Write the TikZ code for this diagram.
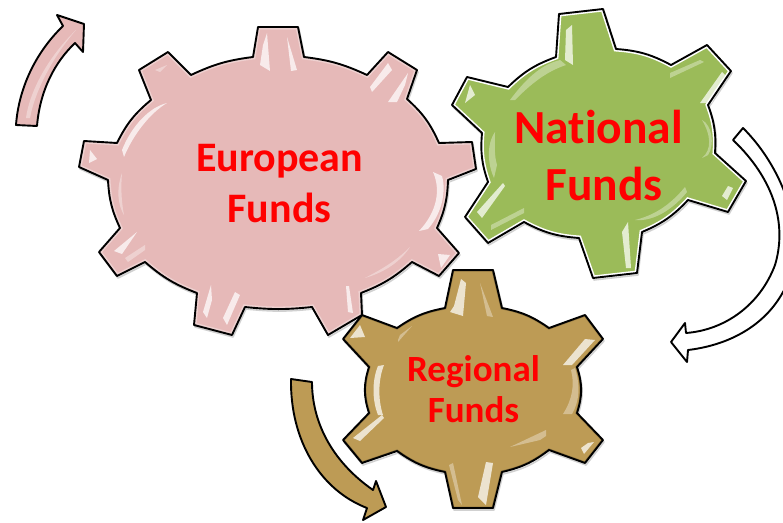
\documentclass[tikz,border=0pt]{standalone}
\usepackage{fontspec}
\setmainfont[Ligatures=NoCommon]{Carlito}
\usetikzlibrary{calc}
\definecolor{pinkfill}{HTML}{E6B9B8}
\definecolor{greenfill}{HTML}{9BBB59}
\definecolor{brownfill}{HTML}{BD9B55}
\tikzset{
  outline/.style={draw=black,line width=1.9pt,line join=round},
  shadowpath/.style={draw=black!45,line width=1.6pt,line join=round,opacity=.4},
  glint/.style={fill=white,draw=none,opacity=.72},
  softglint/.style={fill=white,draw=none,opacity=.35},
  label/.style={text=red,font=\bfseries,align=center,inner sep=0pt}
}
\newcommand{\pinkgear}{(258,27) -- (298,27) -- (304,57) to[bend left=9] (367,75) -- (388,52) -- (417,70) -- (407,99) to[bend left=12] (439,143) -- (472,142) -- (476,169) -- (448,180) to[bend left=11] (437,228) -- (459,253) -- (439,276) -- (412,262) to[bend left=10] (361,293) -- (362,315) -- (328,335) -- (312,307) to[bend left=6] (245,307) -- (232,335) -- (194,325) -- (197,293) to[bend left=10] (145,262) -- (117,276) -- (99,252) -- (120,228) to[bend left=11] (108,180) -- (79,167) -- (84,141) -- (117,143) to[bend left=12] (151,100) -- (139,70) -- (168,52) -- (191,75) to[bend left=9] (253,57) -- cycle}
\newcommand{\greengear}{(559,14) -- (603,9) -- (616,49) to[bend left=12] (671,65) -- (707,45) -- (731,71) -- (708,105) to[bend left=12] (715,153) -- (746,181) -- (728,212) -- (688,200) to[bend left=12] (642,232) -- (637,273) -- (593,278) -- (579,238) to[bend left=12] (524,222) -- (488,243) -- (465,217) -- (488,182) to[bend left=12] (482,133) -- (452,105) -- (467,77) -- (508,87) to[bend left=12] (556,57) -- cycle}
\newcommand{\browngear}{(453,270) -- (493,270) -- (502,308) to[bend left=12] (549,328) -- (585,315) -- (603,339) -- (577,367) to[bend left=18] (577,413) -- (603,440) -- (585,463) -- (549,450) to[bend left=12] (502,472) -- (493,508) -- (453,508) -- (445,472) to[bend left=12] (397,451) -- (362,463) -- (343,440) -- (369,413) to[bend left=18] (369,367) -- (343,339) -- (362,315) -- (397,328) to[bend left=12] (445,308) -- cycle}
\newcommand{\pinkarrow}{(16,125) .. controls (19,85) and (38,50) .. (63,26) -- (57,15) -- (84,24) -- (83,52) -- (75,43) .. controls (55,62) and (40,90) .. (37,126) -- cycle}
\newcommand{\whitearrow}{(733,140) -- (743,128) .. controls (790,175) and (810,250) .. (783,292) .. controls (765,325) and (730,345) .. (688,350) -- (687,362) -- (671,342) -- (685,323) -- (686,333) .. controls (725,330) and (760,305) .. (775,265) .. controls (787,225) and (775,180) .. (733,140) -- cycle}
\newcommand{\brownarrow}{(291,379) -- (312,382) .. controls (312,420) and (330,460) .. (373,490) -- (376,481) -- (386,507) -- (363,520) -- (367,508) .. controls (320,490) and (290,440) .. (291,379) -- cycle}
\begin{document}
\begin{tikzpicture}[x=1pt,y=-1pt]
\useasboundingbox (0,0) rectangle (783,522);
\clip (0,0) rectangle (783,522);
% European gear
\draw[shadowpath,shift={(1,2)}] \pinkgear;
\fill[pinkfill] \pinkgear;
\begin{scope}
  \clip \pinkgear;
  \draw[white,line width=5pt,opacity=.35] \pinkgear;
\end{scope}
\fill[glint] (267,33) -- (270,71) -- (260,65) -- (263,45) -- cycle;
\fill[glint] (287,37) -- (297,70) -- (291,71) -- cycle;
\fill[glint] (388,63) -- (370,87) -- (372,92) -- (392,70) -- cycle;
\fill[glint] (408,73) -- (388,102) -- (397,102) -- (405,85) -- cycle;
\fill[glint] (167,103) .. controls (150,107) and (132,125) .. (122,150) -- (124,157) .. controls (133,135) and (150,113) .. cycle;
\fill[glint] (90,150) -- (97,159) -- (89,163) -- cycle;
\fill[softglint] (122,173) .. controls (116,190) and (118,205) .. (124,215) .. controls (121,200) and (121,185) .. cycle;
\fill[glint] (433,172) .. controls (441,190) and (437,212) .. (419,231) -- (428,229) .. controls (443,212) and (446,190) .. (442,176) -- cycle;
\fill[glint] (137,232) -- (114,251) -- (122,254) -- cycle;
\fill[softglint] (125,258) -- (145,245) -- (145,250) -- (128,262) -- cycle;
\fill[softglint] (410,247) .. controls (395,262) and (380,270) .. (365,278) .. controls (385,272) and (400,262) .. cycle;
\fill[glint] (438,254) -- (450,255) -- (441,268) -- cycle;
\fill[glint] (211,285) -- (203,312) -- (207,318) -- (212,300) -- cycle;
\fill[glint] (235,292) -- (223,318) -- (227,325) -- (240,295) -- cycle;
\fill[glint] (346,286) -- (348,312) -- (353,313) -- (349,286) -- cycle;
\fill[softglint] (155,70) -- (167,65) -- (160,72) -- cycle;
\draw[outline] \pinkgear;
% National gear
\draw[shadowpath,shift={(1,2)}] \greengear;
\fill[greenfill] \greengear;
\begin{scope}
  \clip \greengear;
  \draw[white,line width=5pt] \greengear;
\end{scope}
\fill[glint] (572,25) -- (573,65) -- (565,60) -- (566,30) -- cycle;
\fill[softglint] (560,60) .. controls (540,65) and (525,80) .. (510,100) -- (515,100) .. controls (530,85) and (545,72) .. (566,65) -- cycle;
\fill[glint] (470,85) -- (475,95) -- (465,103) -- cycle;
\fill[softglint] (704,62) -- (670,78) -- (670,73) -- (700,60) -- cycle;
\fill[glint] (722,72) -- (700,103) -- (712,103) -- (725,75) -- cycle;
\fill[softglint] (495,132) .. controls (486,145) and (488,165) .. (494,178) -- (497,165) .. controls (494,155) and (495,145) .. cycle;
\fill[softglint] (702,120) .. controls (711,135) and (712,150) .. (702,158) -- (708,155) .. controls (715,145) and (712,125) .. cycle;
\fill[glint] (503,183) -- (477,212) -- (482,218) -- (505,186) -- cycle;
\fill[glint] (728,186) -- (722,196) -- (727,200) -- (733,188) -- cycle;
\fill[softglint] (685,187) .. controls (670,205) and (655,215) .. (635,220) .. controls (655,222) and (675,207) .. (687,192) -- cycle;
\fill[softglint] (524,208) -- (491,225) -- (491,230) -- (524,213) -- cycle;
\fill[glint] (628,222) -- (631,268) -- (626,268) -- (622,232) -- cycle;
\draw[outline] \greengear;
% Regional gear
\draw[shadowpath,shift={(1,2)}] \browngear;
\fill[brownfill] \browngear;
\begin{scope}
  \clip \browngear;
  \draw[black!50!brownfill,line width=3pt,opacity=.5] \browngear;
\end{scope}
\fill[glint] (461,279) -- (454,306) -- (450,312) -- (463,316) -- (466,283) -- cycle;
\fill[softglint] (480,283) -- (493,317) -- (487,316) -- cycle;
\fill[glint] (360,325) -- (365,337) -- (350,338) -- cycle;
\fill[softglint] (398,340) -- (400,335) -- (412,326) -- (398,342) -- cycle;
\fill[glint] (585,339) -- (563,365) -- (572,365) -- (595,340) -- cycle;
\fill[glint] (378,366) .. controls (372,380) and (372,400) .. (378,415) -- (383,415) .. controls (378,400) and (378,380) .. (384,365) -- cycle;
\fill[softglint] (571,370) .. controls (575,385) and (572,400) .. (563,414) -- (572,414) .. controls (580,400) and (580,385) .. (575,368) -- cycle;
\fill[glint] (382,415) -- (353,438) -- (360,441) -- (384,418) -- cycle;
\fill[softglint] (546,436) -- (540,440) -- (510,447) -- (546,430) -- cycle;
\fill[glint] (588,443) -- (594,442) -- (584,454) -- (581,448) -- cycle;
\fill[glint] (486,462) -- (478,497) -- (486,505) -- (493,463) -- cycle;
\fill[softglint] (453,463) -- (462,505) -- (458,500) -- (449,465) -- cycle;
\draw[outline] \browngear;
% Arrows
\fill[pinkfill] \pinkarrow;
\fill[softglint] (26,118) .. controls (29,95) and (45,60) .. (76,30) .. controls (50,60) and (34,95) .. (30,118) -- cycle;
\draw[outline] \pinkarrow;
\fill[white] \whitearrow;
\draw[outline] \whitearrow;
\fill[brownfill] \brownarrow;
\draw[outline] \brownarrow;
% Labels
\node[label,font=\bfseries\fontsize{42}{51}\selectfont] (eur) at (279.5,184) {European\\Funds};
\node[label,font=\bfseries\fontsize{47.5}{57}\selectfont] (nat) at (598.5,156) {National\\\hspace*{11pt}Funds};
\node[label,font=\bfseries\fontsize{37}{41}\selectfont] (reg) at (473.5,389.5) {Regional\\Funds};
\end{tikzpicture}
\end{document}
